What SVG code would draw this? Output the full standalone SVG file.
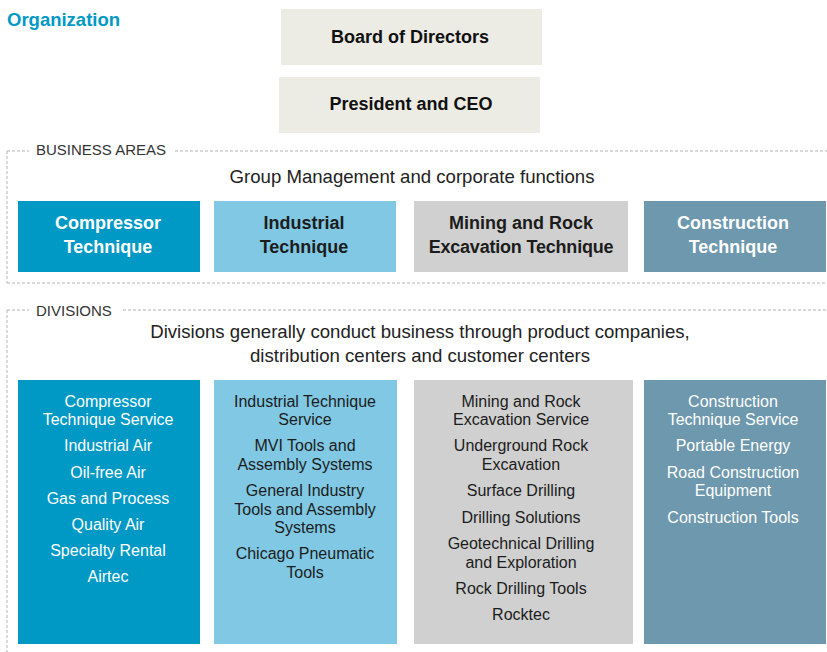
<svg xmlns="http://www.w3.org/2000/svg" width="827" height="652" viewBox="0 0 827 652">
<style>
text{font-family:"Liberation Sans",Arial,Helvetica,sans-serif;}
.title{font-size:18.5px;font-weight:bold;fill:#0099c6;}
.top{fill:#ecebe4;}
.topt{font-size:18px;font-weight:bold;fill:#111;text-anchor:middle;}
.sec{font-size:15px;fill:#333;}
.sub{font-size:18.6px;fill:#222;text-anchor:middle;}
.dash{fill:none;stroke:#b3b3b3;stroke-width:1;stroke-dasharray:3 2;}
.ba{font-size:18px;font-weight:bold;text-anchor:middle;}
.dv{font-size:16px;text-anchor:middle;}
.w{fill:#fff;}
.k{fill:#1c1c1c;}
.c1{fill:#0099c6;}
.c2{fill:#80c8e3;}
.c3{fill:#d0d0d0;}
.c4{fill:#6e98ad;}
</style>

<text class="title" x="7" y="26">Organization</text>

<g id="board">
<rect class="top" x="281" y="9" width="261" height="56"/>
<text class="topt" x="410" y="43">Board of Directors</text>
</g>
<g id="ceo">
<rect class="top" x="279" y="77" width="261" height="56"/>
<text class="topt" x="411" y="110">President and CEO</text>
</g>

<g id="frames">
<path class="dash" d="M7,151 H29 M175,151 H827 M7,151 V283 M7,283 H827"/>
<path class="dash" d="M7,310 H29 M123,310 H827 M7,310 V652"/>
</g>

<g id="business-areas">
<text class="sec" x="36" y="155">BUSINESS AREAS</text>
<text class="sub" x="412" y="183">Group Management and corporate functions</text>
</g>

<g id="ba-compressor">
<rect class="c1" x="18" y="201" width="182" height="71"/>
<text class="ba w" x="108" y="229">Compressor</text>
<text class="ba w" x="108" y="253">Technique</text>
</g>
<g id="ba-industrial">
<rect class="c2" x="214" y="201" width="182" height="71"/>
<text class="ba k" x="304" y="229">Industrial</text>
<text class="ba k" x="304" y="253">Technique</text>
</g>
<g id="ba-mining">
<rect class="c3" x="414" y="201" width="214" height="71"/>
<text class="ba k" x="521" y="229">Mining and Rock</text>
<text class="ba k" x="521" y="253" letter-spacing="-0.2">Excavation Technique</text>
</g>
<g id="ba-construction">
<rect class="c4" x="644" y="201" width="182" height="71"/>
<text class="ba w" x="733" y="229">Construction</text>
<text class="ba w" x="733" y="253">Technique</text>
</g>

<g id="divisions">
<text class="sec" x="36" y="316">DIVISIONS</text>
<text class="sub" x="420" y="338">Divisions generally conduct business through product companies,</text>
<text class="sub" x="420" y="362">distribution centers and customer centers</text>
</g>

<g id="div-compressor">
<rect class="c1" x="18" y="380" width="182" height="264"/>
<text class="dv w" x="108" y="407">Compressor</text>
<text class="dv w" x="108" y="425">Technique Service</text>
<text class="dv w" x="108" y="451">Industrial Air</text>
<text class="dv w" x="108" y="477.5">Oil-free Air</text>
<text class="dv w" x="108" y="504">Gas and Process</text>
<text class="dv w" x="108" y="530">Quality Air</text>
<text class="dv w" x="108" y="556">Specialty Rental</text>
<text class="dv w" x="108" y="582">Airtec</text>
</g>
<g id="div-industrial">
<rect class="c2" x="214" y="380" width="183" height="264"/>
<text class="dv k" x="305" y="407">Industrial Technique</text>
<text class="dv k" x="305" y="425">Service</text>
<text class="dv k" x="305" y="451">MVI Tools and</text>
<text class="dv k" x="305" y="470">Assembly Systems</text>
<text class="dv k" x="305" y="496">General Industry</text>
<text class="dv k" x="305" y="515">Tools and Assembly</text>
<text class="dv k" x="305" y="533">Systems</text>
<text class="dv k" x="305" y="559">Chicago Pneumatic</text>
<text class="dv k" x="305" y="578">Tools</text>
</g>
<g id="div-mining">
<rect class="c3" x="414" y="380" width="219" height="264"/>
<text class="dv k" x="521" y="407">Mining and Rock</text>
<text class="dv k" x="521" y="425">Excavation Service</text>
<text class="dv k" x="521" y="451">Underground Rock</text>
<text class="dv k" x="521" y="470">Excavation</text>
<text class="dv k" x="521" y="496">Surface Drilling</text>
<text class="dv k" x="521" y="522.5">Drilling Solutions</text>
<text class="dv k" x="521" y="549">Geotechnical Drilling</text>
<text class="dv k" x="521" y="567.5">and Exploration</text>
<text class="dv k" x="521" y="594">Rock Drilling Tools</text>
<text class="dv k" x="521" y="620">Rocktec</text>
</g>
<g id="div-construction">
<rect class="c4" x="644" y="380" width="182" height="264"/>
<text class="dv w" x="733" y="407">Construction</text>
<text class="dv w" x="733" y="425">Technique Service</text>
<text class="dv w" x="733" y="451">Portable Energy</text>
<text class="dv w" x="733" y="477.5">Road Construction</text>
<text class="dv w" x="733" y="496">Equipment</text>
<text class="dv w" x="733" y="522.5">Construction Tools</text>
</g>
</svg>
